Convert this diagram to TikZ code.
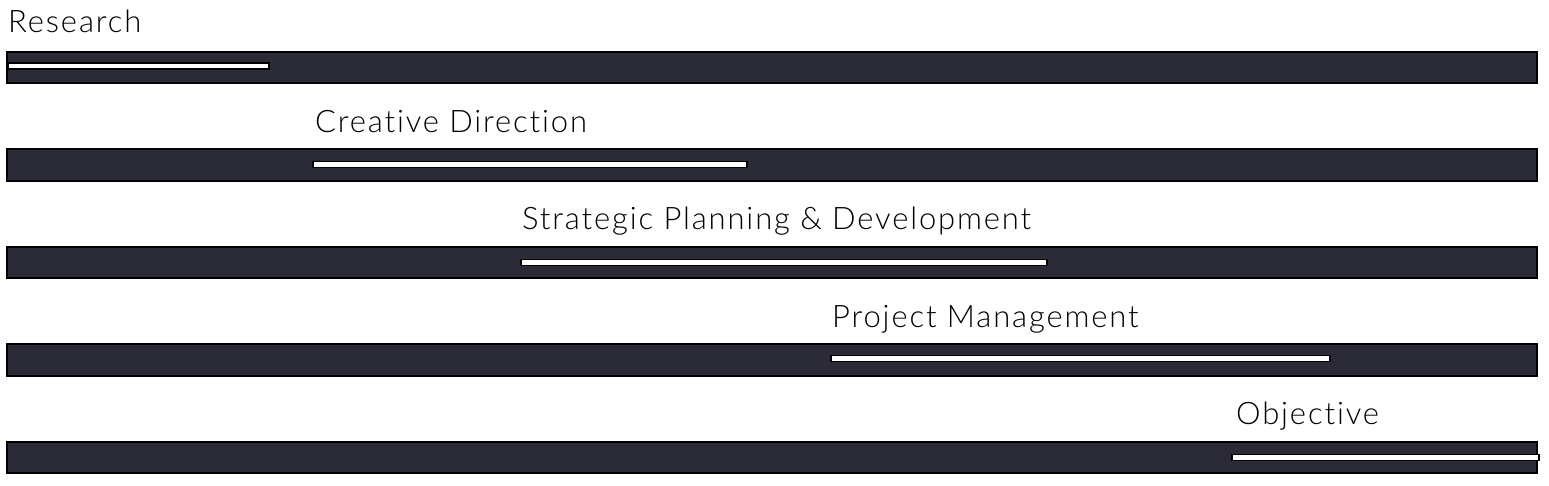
\documentclass[tikz,border=0pt]{standalone}
\usepackage{fontspec}
\setmainfont{Lato Light}[Ligatures=NoCommon, LetterSpace=6]
\usepackage{tikz}
\definecolor{barfill}{RGB}{42,43,54}

\begin{document}
\begin{tikzpicture}[x=1pt, y=-1pt,
	bar/.style={fill=barfill, draw=black, line width=1.5pt},
	track/.style={fill=white, draw=black, line width=1.2pt},
	phase/.style={anchor=base west, inner sep=0pt, font=\fontsize{31}{36}\selectfont}]
	\useasboundingbox [fill=white] (0,0) rectangle (1549,485);
	%
	\node [phase] (research) at (8,32) {Research};
	\node [phase] (creative) at (315,132) {Creative Direction};
	\node [phase] (strategic) at (522,229) {Strategic Planning \& Development};
	\node [phase] (project) at (832,327) {Project Management};
	\node [phase] (objective) at (1236,424) {Objective};
	%
	\draw [bar] (7,52) rectangle (1537,83);
	\draw [bar] (7,149) rectangle (1537,181);
	\draw [bar] (7,247) rectangle (1537,278);
	\draw [bar] (7,344) rectangle (1537,376);
	\draw [bar] (7,442) rectangle (1537,473);
	%
	\draw [track] (8,63) rectangle (269,69);
	\draw [track] (313,161.5) rectangle (747,167.5);
	\draw [track] (521,259.5) rectangle (1047,265.5);
	\draw [track] (831,355.5) rectangle (1330,361.5);
	\draw [track] (1232,454.5) rectangle (1539,460.5);
	\end{tikzpicture}
\end{document}
